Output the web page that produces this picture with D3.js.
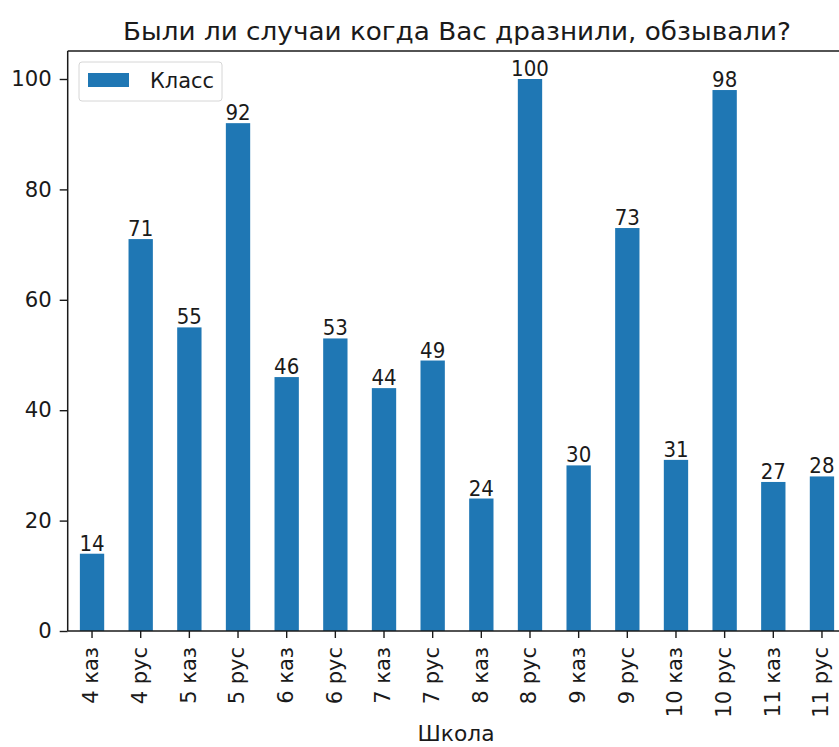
<!DOCTYPE html>
<html><head><meta charset="utf-8">
<script src="https://cdn.jsdelivr.net/npm/d3@7"></script>
<style>body{margin:0;background:#fff}svg{display:block}text{font-family:"DejaVu Sans",sans-serif;fill:#1a1a1a}</style>
</head><body><svg id="c" width="839" height="747"></svg>
<script>
const categories = ["4 каз","4 рус","5 каз","5 рус","6 каз","6 рус","7 каз","7 рус","8 каз","8 рус","9 каз","9 рус","10 каз","10 рус","11 каз","11 рус"];
const values = [14,71,55,92,46,53,44,49,24,100,30,73,31,98,27,28];
const yTicks = [0,20,40,60,80,100];
const seriesName = "Класс";
const title = "Были ли случаи когда Вас дразнили, обзывали?";
const xLabel = "Школа";

const svg = d3.select("#c");
const L = 67.7, R = 846.3, T = 51, B = 631;
const FS = 21;
const x = d3.scaleBand().domain(categories).range([L, R]).paddingInner(0.5).paddingOuter(0.25);
const y = d3.scaleLinear().domain([0, 105]).range([B, B - 105 * 5.52]);
const color = "#1f77b4";

svg.selectAll("rect.bar").data(values).enter().append("rect")
  .attr("class","bar")
  .attr("x",(d,i)=>x(categories[i])).attr("width",x.bandwidth())
  .attr("y",d=>y(d)).attr("height",d=>B-y(d)).attr("fill",color);

svg.selectAll("text.val").data(values).enter().append("text")
  .attr("class","val")
  .attr("x",(d,i)=>x(categories[i])+x.bandwidth()/2).attr("y",d=>y(d)-3)
  .attr("text-anchor","middle").attr("font-size",FS)
  .attr("textLength",d=>String(d).length*12.6).attr("lengthAdjust","spacingAndGlyphs").text(d=>d);

const yAxis = svg.append("g").attr("transform",`translate(${L},0)`)
  .call(d3.axisLeft(y).tickValues(yTicks).tickSize(8).tickPadding(8));
yAxis.select(".domain").remove();
yAxis.selectAll("text").attr("font-size",FS).style("font-family","DejaVu Sans").attr("fill","#1a1a1a")
  .attr("textLength",d=>String(d).length*13.5).attr("lengthAdjust","spacingAndGlyphs");
yAxis.selectAll("line").attr("stroke","#1a1a1a").attr("stroke-width",1.4);

const xAxis = svg.append("g").attr("transform",`translate(0,${B})`)
  .call(d3.axisBottom(x).tickSize(7).tickPadding(6));
xAxis.select(".domain").remove();
xAxis.selectAll("line").attr("stroke","#1a1a1a").attr("stroke-width",1.4);
xAxis.selectAll("text").attr("font-size",FS).style("font-family","DejaVu Sans").attr("fill","#1a1a1a")
  .attr("transform","rotate(-90)").attr("text-anchor","end")
  .attr("x",-16).attr("y",-1).attr("dy","0.35em");

// spines
svg.append("line").attr("x1",L).attr("x2",L).attr("y1",T).attr("y2",B).attr("stroke","#1a1a1a").attr("stroke-width",1.5);
svg.append("line").attr("x1",L).attr("x2",R).attr("y1",B).attr("y2",B).attr("stroke","#1a1a1a").attr("stroke-width",1.5);
svg.append("line").attr("x1",L).attr("x2",R).attr("y1",T).attr("y2",T).attr("stroke","#1a1a1a").attr("stroke-width",1.5);

svg.append("text").attr("x",457).attr("y",40).attr("text-anchor","middle").attr("font-size",25)
  .attr("textLength",668).attr("lengthAdjust","spacingAndGlyphs").text(title);
svg.append("text").attr("x",456).attr("y",741).attr("text-anchor","middle").attr("font-size",FS)
  .attr("textLength",77).attr("lengthAdjust","spacingAndGlyphs").text(xLabel);

// legend
const lg = svg.append("g");
lg.append("rect").attr("x",79).attr("y",62).attr("width",143).attr("height",39).attr("rx",3)
  .attr("fill","#fff").attr("fill-opacity",0.8).attr("stroke","#d6d6d6");
lg.append("rect").attr("x",88).attr("y",73).attr("width",41).attr("height",14).attr("fill",color);
lg.append("text").attr("x",150).attr("y",88).attr("font-size",FS)
  .attr("textLength",64).attr("lengthAdjust","spacingAndGlyphs").text(seriesName);
</script></body></html>
